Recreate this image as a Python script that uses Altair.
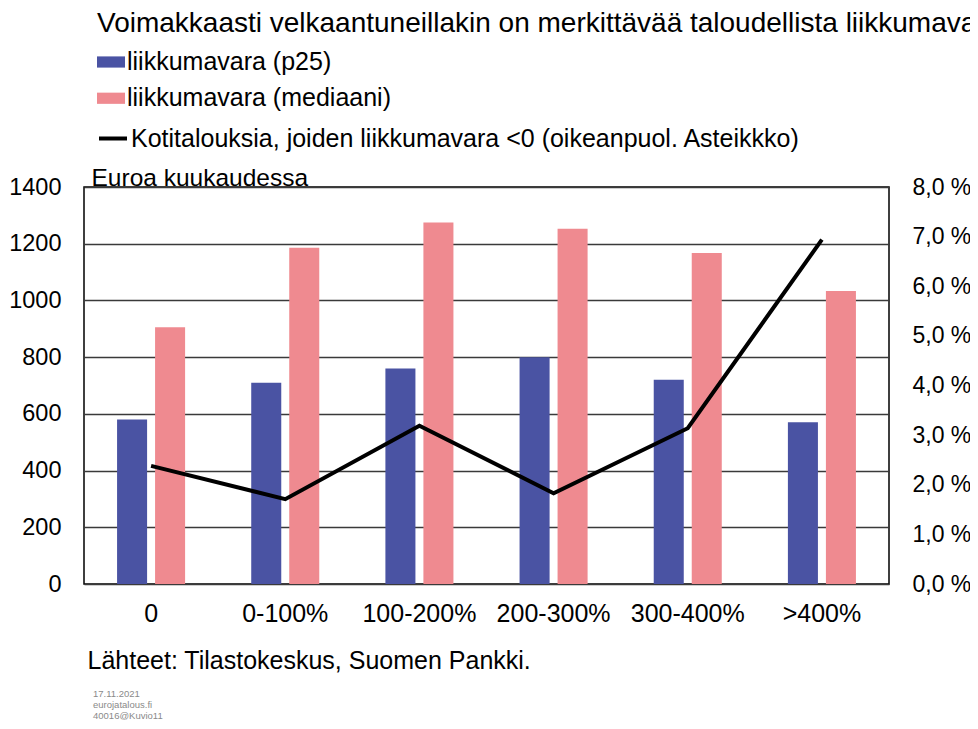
import altair as alt
import pandas as pd

# ---- data ----
categories = ["0", "0-100%", "100-200%", "200-300%", "300-400%", ">400%"]
p25 = [580, 710, 760, 800, 720, 570]
median = [905, 1186, 1275, 1253, 1167, 1033]
negative_share = [2.38, 1.71, 3.19, 1.83, 3.14, 6.94]  # percent, right axis

series_names = ["liikkumavara (p25)", "liikkumavara (mediaani)"]
line_name = "Kotitalouksia, joiden liikkumavara <0 (oikeanpuol. Asteikkko)"
title_text = "Voimakkaasti velkaantuneillakin on merkittävää taloudellista liikkumavaraa"
left_axis_title = "Euroa kuukaudessa"
source_text = "Lähteet: Tilastokeskus, Suomen Pankki."
note_lines = ["17.11.2021", "eurojatalous.fi", "40016@Kuvio11"]
left_ticks = [0, 200, 400, 600, 800, 1000, 1200, 1400]
right_ticks = [0, 1, 2, 3, 4, 5, 6, 7, 8]

BLUE = "#4A53A3"
PINK = "#EF8A90"
FONT = "Liberation Sans"

bars_df = pd.DataFrame({
    "category": categories * 2,
    "series": [series_names[0]] * len(categories) + [series_names[1]] * len(categories),
    "value": p25 + median,
})
line_df = pd.DataFrame({
    "category": categories,
    "share": negative_share,
    "name": [line_name] * len(categories),
})

x_scale = alt.Scale(domain=categories, paddingInner=0, paddingOuter=0)

bars = alt.Chart(bars_df).mark_bar().encode(
    x=alt.X(
        "category:N", scale=x_scale, sort=categories,
        axis=alt.Axis(
            labelAngle=0, labelFontSize=25, labelPadding=17, ticks=False, domain=False,
            labelColor="black",
            title=source_text, titleX=3, titleY=84, titleAlign="left",
            titleBaseline="alphabetic", titleFontSize=25, titleFontWeight="normal",
            titleColor="black",
        ),
    ),
    xOffset=alt.XOffset(
        "series:N", sort=series_names,
        scale=alt.Scale(domain=series_names, paddingInner=0.21, paddingOuter=0.87),
    ),
    y=alt.Y(
        "value:Q", scale=alt.Scale(domain=[0, 1400], nice=False),
        axis=alt.Axis(
            values=left_ticks, format="d", grid=True, gridColor="#3a3a3a", gridWidth=1.6,
            ticks=False, domain=False, labelFontSize=23.5, labelPadding=23, labelColor="black",
            title=left_axis_title, titleAngle=0, titleX=7, titleY=-2, titleAlign="left",
            titleBaseline="alphabetic", titleFontSize=24.5, titleFontWeight="normal",
            titleColor="black",
        ),
    ),
    color=alt.Color(
        "series:N",
        scale=alt.Scale(domain=series_names, range=[BLUE, PINK]),
        legend=alt.Legend(
            title=None, orient="none", legendX=13, legendY=-139,
            symbolType="M-1,-0.4H1V0.4H-1Z", symbolSize=784, symbolStrokeWidth=0,
            symbolOpacity=1, labelFontSize=25, labelOffset=2, rowPadding=9.25,
            padding=0, labelLimit=700, labelColor="black",
        ),
    ),
)

line = alt.Chart(line_df).mark_line(strokeWidth=4).encode(
    x=alt.X("category:N", scale=x_scale, sort=categories),
    y=alt.Y(
        "share:Q", scale=alt.Scale(domain=[0, 8], nice=False),
        axis=alt.Axis(
            orient="right", values=right_ticks,
            labelExpr="replace(format(datum.value, '.1f'), '.', ',') + ' %'",
            grid=False, ticks=False, domain=False, labelFontSize=23, labelPadding=23,
            labelColor="black", title=None,
        ),
    ),
    stroke=alt.Stroke(
        "name:N",
        scale=alt.Scale(domain=[line_name], range=["black"]),
        legend=alt.Legend(
            title=None, orient="none", legendX=13, legendY=-64.5,
            symbolType="stroke", symbolSize=784, symbolStrokeWidth=4,
            labelFontSize=25, labelOffset=2, padding=0, labelLimit=900,
            labelColor="black",
        ),
    ),
)

title_layer = alt.Chart(alt.Data(values=[{"t": title_text}])).mark_text(
    align="left", baseline="alphabetic", fontSize=28, color="black"
).encode(text="t:N", x=alt.value(13), y=alt.value(-155))

notes_layer = alt.Chart(alt.Data(values=[{"t": "\n".join(note_lines)}])).mark_text(
    align="left", baseline="alphabetic", fontSize=9.5, lineBreak="\n", lineHeight=11,
    color="#8a8a8a",
).encode(text="t:N", x=alt.value(9), y=alt.value(510))

chart = (
    alt.layer(bars, line, title_layer, notes_layer)
    .resolve_scale(y="independent")
    .properties(
        width=805, height=397,
        autosize=alt.AutoSizeParams(type="none"),
        padding={"left": 76, "top": 179, "right": 81, "bottom": 137},
        background="white",
    )
    .configure(font=FONT)
    .configure_view(stroke="black", strokeWidth=1.5)
)

chart.save("out.html", embed_options={"renderer": "svg", "actions": False})
